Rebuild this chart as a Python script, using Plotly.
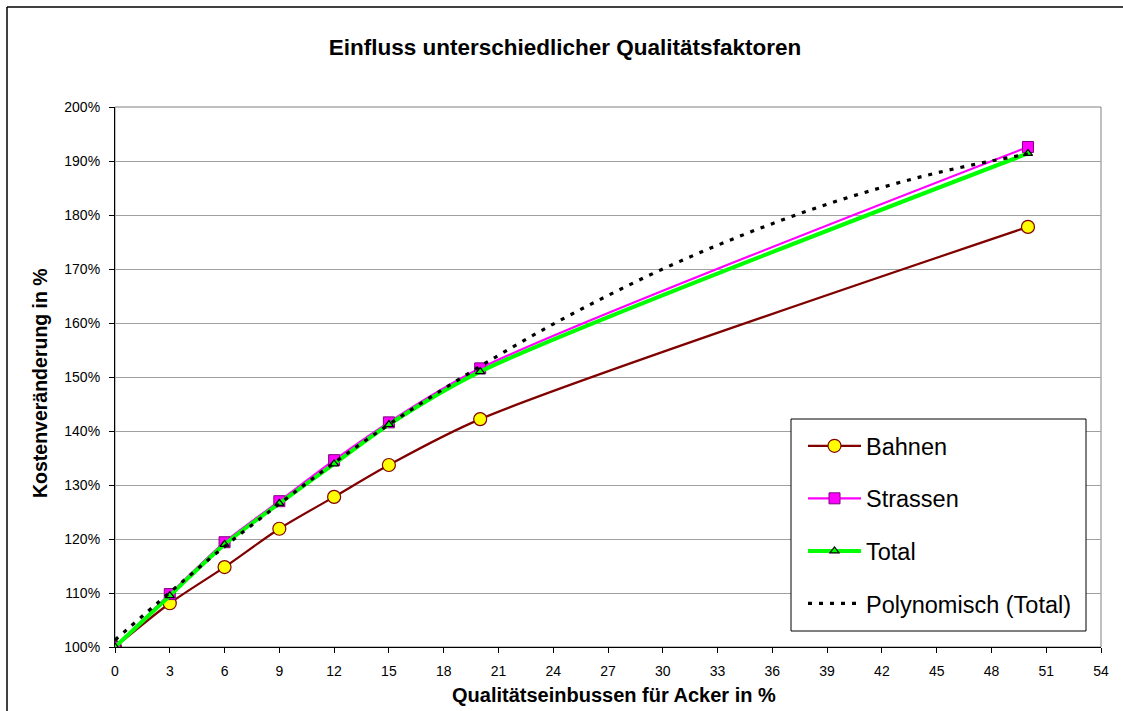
import plotly.graph_objects as go

# ---- data ----
x_vals = [0, 3, 6, 9, 12, 15, 20, 50]
bahnen = [100.0, 108.1, 114.8, 121.9, 127.8, 133.7, 142.2, 177.8]
strassen = [100.0, 109.8, 119.4, 127.0, 134.6, 141.6, 151.6, 192.6]
total = [100.0, 109.5, 119.0, 126.6, 133.9, 141.2, 151.0, 191.4]

# polynomial trendline of Total
trend_x = [0, 3, 6, 9, 12, 15, 18, 21, 24, 27, 30, 33, 36, 39, 42, 45, 48, 50]
trend_y = [101.3, 110.1, 118.6, 126.5, 134.1, 141.2, 147.8, 154.0, 159.8,
           165.1, 170.0, 174.4, 178.4, 182.0, 185.1, 187.8, 190.0, 191.3]

x_ticks = list(range(0, 55, 3))
y_ticks = list(range(100, 201, 10))
y_tick_text = [f"{v}%" for v in y_ticks]

FONT = "Liberation Sans, Arial, sans-serif"

fig = go.Figure()
fig.add_trace(go.Scatter(
    x=x_vals, y=bahnen, name="Bahnen", mode="lines+markers",
    line=dict(color="#800000", width=2.2, shape="spline", smoothing=0.8),
    marker=dict(symbol="circle", size=13, color="#FFFF00",
                line=dict(color="#800000", width=1.2)),
    legendgroup="a"))
fig.add_trace(go.Scatter(
    x=x_vals, y=strassen, name="Strassen", mode="lines+markers",
    line=dict(color="#FF00FF", width=2.2, shape="spline", smoothing=0.8),
    marker=dict(symbol="square", size=11, color="#FF00FF",
                line=dict(color="#800080", width=1)),
    legendgroup="b"))
fig.add_trace(go.Scatter(
    x=x_vals, y=total, name="Total", mode="lines+markers",
    line=dict(color="#00FF00", width=4, shape="spline", smoothing=0.8),
    marker=dict(symbol="triangle-up", size=8, color="#00FF00",
                line=dict(color="#000000", width=1.2)),
    legendgroup="c"))
fig.add_trace(go.Scatter(
    x=trend_x, y=trend_y, name="Polynomisch (Total)", mode="lines",
    line=dict(color="#000000", width=3.2, dash="4px,7px", shape="spline"),
    legendgroup="d"))

L, R, T, B = 115, 22, 107, 64
W, H = 1123, 711
pw, ph = W - L - R, H - T - B

def px_x(p):
    return (p - L) / pw

def px_y(p):
    return (H - B - p) / ph

shapes = [
    # outer chart border: only the top and left edges are inside the picture
    dict(type="line", xref="paper", yref="paper",
         x0=px_x(7), x1=px_x(1123), y0=px_y(7), y1=px_y(7),
         line=dict(color="#000000", width=1.5), layer="below"),
    dict(type="line", xref="paper", yref="paper",
         x0=px_x(7), x1=px_x(7), y0=px_y(7), y1=px_y(711),
         line=dict(color="#000000", width=1.5), layer="below"),
    # plot area border (gray)
    dict(type="rect", xref="paper", yref="paper", x0=0, x1=1, y0=0, y1=1,
         line=dict(color="#808080", width=1), fillcolor="rgba(0,0,0,0)", layer="below"),
    # legend box
    dict(type="rect", xref="paper", yref="paper",
         x0=px_x(791), x1=px_x(1086), y0=px_y(631), y1=px_y(419),
         line=dict(color="#000000", width=1), fillcolor="#FFFFFF", layer="above"),
]

fig.update_layout(
    width=W, height=H,
    margin=dict(l=L, r=R, t=T, b=B),
    paper_bgcolor="#FFFFFF", plot_bgcolor="#FFFFFF",
    font=dict(family=FONT, color="#000000"),
    title=dict(text="<b>Einfluss unterschiedlicher Qualitätsfaktoren</b>",
               x=565 / W, xanchor="center", y=1 - 47 / H, yanchor="middle",
               xref="container", yref="container",
               font=dict(size=22.5, family=FONT)),
    xaxis=dict(range=[0, 54], tickvals=x_ticks, showgrid=False, zeroline=False,
               showline=True, linecolor="#000000", linewidth=1.2,
               ticks="outside", ticklen=5, tickcolor="#000000",
               tickfont=dict(size=14, family=FONT), ticklabelstandoff=6),
    yaxis=dict(range=[100, 200], tickvals=y_ticks, ticktext=y_tick_text,
               showgrid=True, gridcolor="#A0A0A0", gridwidth=1, zeroline=False,
               showline=True, linecolor="#000000", linewidth=1.2,
               ticks="outside", ticklen=5, tickcolor="#000000",
               tickfont=dict(size=14, family=FONT), ticklabelstandoff=6),
    showlegend=True,
    legend=dict(x=px_x(803), y=px_y(424), xanchor="left", yanchor="top",
                bgcolor="rgba(0,0,0,0)", borderwidth=0,
                font=dict(size=23.5, family=FONT),
                itemwidth=53, tracegroupgap=19, traceorder="grouped"),
    shapes=shapes,
    annotations=[
        dict(text="<b>Qualitätseinbussen für Acker in %</b>", xref="paper", yref="paper",
             x=px_x(614), y=px_y(695), xanchor="center", yanchor="middle",
             showarrow=False, font=dict(size=20, family=FONT)),
        dict(text="<b>Kostenveränderung in %</b>", xref="paper", yref="paper",
             x=px_x(40), y=px_y(383), xanchor="center", yanchor="middle",
             textangle=-90, showarrow=False, font=dict(size=19.5, family=FONT)),
    ],
)

fig.write_html("out.html")
